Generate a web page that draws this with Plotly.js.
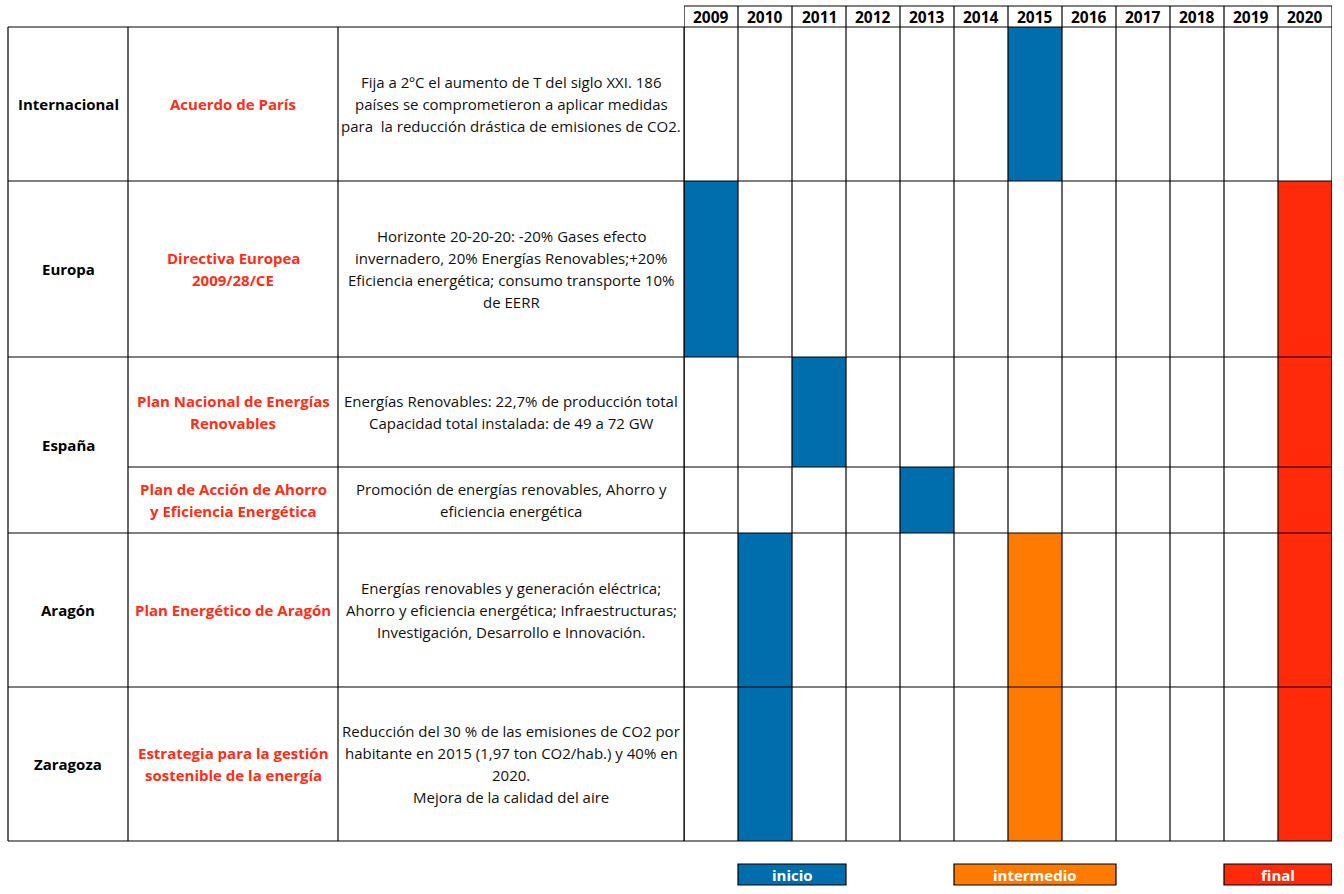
<!DOCTYPE html>
<html>
<head>
<meta charset="utf-8">
<script src="https://cdn.plot.ly/plotly-3.0.1.min.js"></script>
<style>html,body{margin:0;padding:0;background:#fff;}#chart{width:1344px;height:894px;}</style>
</head>
<body>
<div id="chart"></div>
<script>
// ---------- DATA ----------
const regions = ['Internacional', 'Europa', 'España', 'Aragón', 'Zaragoza'];
const plans = [
  ['Acuerdo de París'],
  ['Directiva Europea', '2009/28/CE'],
  ['Plan Nacional de Energías', 'Renovables'],
  ['Plan de Acción de Ahorro', 'y Eficiencia Energética'],
  ['Plan Energético de Aragón'],
  ['Estrategia para la gestión', 'sostenible de la energía']
];
const planRegion = [0, 1, 2, 2, 3, 4];
const descriptions = [
  ['Fija a 2ºC el aumento de T del siglo XXI. 186', 'países se comprometieron a aplicar medidas', 'para  la reducción drástica de emisiones de CO2.'],
  ['Horizonte 20-20-20: -20% Gases efecto', 'invernadero, 20% Energías Renovables;+20%', 'Eficiencia energética; consumo transporte 10%', 'de EERR'],
  ['Energías Renovables: 22,7% de producción total', 'Capacidad total instalada: de 49 a 72 GW'],
  ['Promoción de energías renovables, Ahorro y', 'eficiencia energética'],
  ['Energías renovables y generación eléctrica;', 'Ahorro y eficiencia energética; Infraestructuras;', 'Investigación, Desarrollo e Innovación.'],
  ['Reducción del 30 % de las emisiones de CO2 por', 'habitante en 2015 (1,97 ton CO2/hab.) y 40% en', '2020.', 'Mejora de la calidad del aire']
];
const years = [2009, 2010, 2011, 2012, 2013, 2014, 2015, 2016, 2017, 2018, 2019, 2020];
const phaseNames = ['inicio', 'intermedio', 'final'];
const inicioYear = [2015, 2009, 2011, 2013, 2010, 2010];
const intermedioYear = [null, null, null, null, 2015, 2015];
const finalYear = [null, 2020, 2020, 2020, 2020, 2020];

// ---------- LAYOUT CONSTANTS ----------
const W = 1344, H = 894;
const colEdges = [8, 128, 338, 684];
const gridRight = 1332;
const headerTop = 6, tableTop = 27;
const rowHeights = [154, 176, 110, 66, 154, 154];
const lineH = 22;
const legendTop = 864, legendBottom = 885;
const legendSpans = [[2010, 2011], [2014, 2016], [2019, 2020]];
const phaseColors = ['#006EAD', '#FF7A00', '#FF2A0A'];
const red = '#FF2D16';
const FONT = 'Open Sans, sans-serif';

const rowTops = [];
let acc = tableTop;
rowHeights.forEach(h => { rowTops.push(acc); acc += h; });
const tableBottom = acc;

// ---------- TRACES (cells) ----------
const phaseYears = [inicioYear, intermedioYear, finalYear];
const traces = phaseYears.map((arr, p) => {
  const xs = [], bases = [], hs = [];
  arr.forEach((yr, i) => {
    if (yr === null) return;
    xs.push(yr); bases.push(rowTops[i]); hs.push(rowHeights[i]);
  });
  return {
    type: 'bar', x: xs, y: hs, base: bases, width: 1,
    xaxis: 'x2', yaxis: 'y', name: phaseNames[p],
    marker: {color: phaseColors[p], line: {width: 0}},
    hoverinfo: 'skip', showlegend: false
  };
});

// ---------- SHAPES (grid) ----------
const shapes = [];
const ln = (xref, x0, x1, y0, y1) => shapes.push({type: 'line', xref: xref, yref: 'y', x0, x1, y0, y1, line: {color: '#000', width: 1.2}});
// horizontal
ln('x', colEdges[0], gridRight, tableTop, tableTop);
rowTops.forEach((t, i) => {
  if (i === 0) return;
  const startX = planRegion[i] === planRegion[i - 1] ? colEdges[1] : colEdges[0];
  ln('x', startX, gridRight, t, t);
});
ln('x', colEdges[0], gridRight, tableBottom, tableBottom);
ln('x2', years[0] - 0.5, years[years.length - 1] + 0.5, headerTop, headerTop);
// vertical
colEdges.forEach(x => ln('x', x, x, tableTop, tableBottom));
years.forEach(yr => ln('x2', yr - 0.5, yr - 0.5, headerTop, tableBottom));
ln('x2', years[years.length - 1] + 0.5, years[years.length - 1] + 0.5, headerTop, tableBottom);
// legend boxes
legendSpans.forEach((s, p) => {
  shapes.push({type: 'rect', xref: 'x2', yref: 'y', x0: s[0] - 0.5, x1: s[1] + 0.5, y0: legendTop, y1: legendBottom,
    fillcolor: phaseColors[p], line: {color: '#000', width: 1.2}, layer: 'above'});
});

// ---------- ANNOTATIONS ----------
const annotations = [];
const txt = (xref, x, y, text, size, color, bold) => annotations.push({
  xref: xref, yref: 'y', x: x, y: y, text: bold ? '<b>' + text + '</b>' : text, showarrow: false,
  xanchor: 'center', yanchor: 'middle', font: {family: FONT, size: size, color: color}
});
const linesAt = (xref, x, center, lines, size, color, bold) => {
  const n = lines.length;
  lines.forEach((l, k) => txt(xref, x, center + (k - (n - 1) / 2) * lineH, l, size, color, bold));
};
// years header
years.forEach(yr => txt('x2', yr, (headerTop + tableTop) / 2, String(yr), 15.5, '#000', true));
// regions
regions.forEach((r, ri) => {
  const idx = planRegion.map((v, i) => v === ri ? i : -1).filter(i => i >= 0);
  const top = rowTops[idx[0]];
  const bot = rowTops[idx[idx.length - 1]] + rowHeights[idx[idx.length - 1]];
  txt('x', (colEdges[0] + colEdges[1]) / 2, (top + bot) / 2, r, 15, '#000', true);
});
// plans & descriptions
plans.forEach((p, i) => {
  const c = rowTops[i] + rowHeights[i] / 2;
  linesAt('x', (colEdges[1] + colEdges[2]) / 2, c, p, 15, red, true);
  linesAt('x', (colEdges[2] + colEdges[3]) / 2, c, descriptions[i], 15, '#111', false);
});
// legend labels
legendSpans.forEach((s, p) => txt('x2', (s[0] + s[1]) / 2, (legendTop + legendBottom) / 2, phaseNames[p], 15, '#fff', true));

const layout = {
  width: W, height: H,
  margin: {l: 0, r: 0, t: 0, b: 0, pad: 0},
  paper_bgcolor: '#fff', plot_bgcolor: '#fff',
  showlegend: false,
  barmode: 'overlay',
  xaxis: {range: [0, W], domain: [0, 1], visible: false, fixedrange: true, anchor: 'y'},
  xaxis2: {range: [years[0] - 0.5, years[years.length - 1] + 0.5], domain: [colEdges[3] / W, gridRight / W], visible: false, fixedrange: true, anchor: 'y'},
  yaxis: {range: [H, 0], domain: [0, 1], visible: false, fixedrange: true, anchor: 'x'},
  shapes: shapes,
  annotations: annotations
};

Plotly.newPlot('chart', traces, layout, {displayModeBar: false, staticPlot: true});
</script>
</body>
</html>
